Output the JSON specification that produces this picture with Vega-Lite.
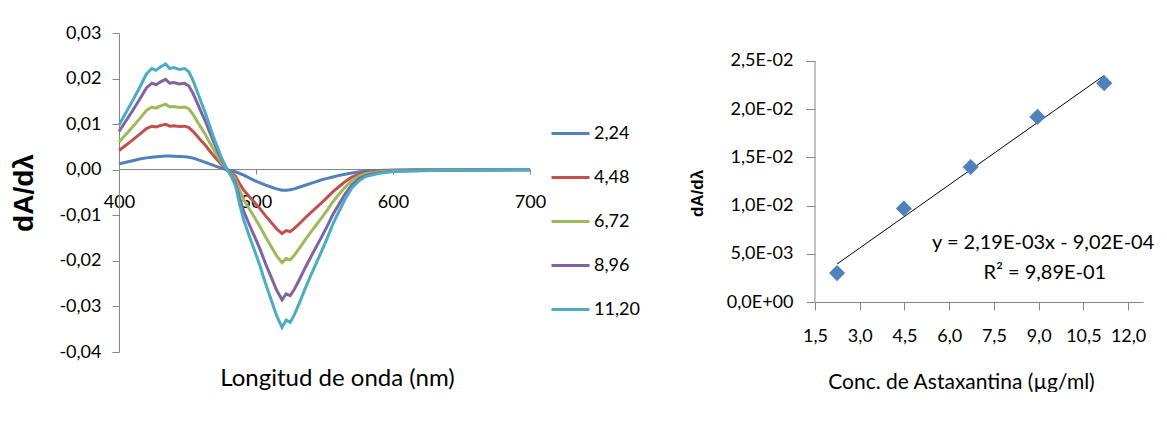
{
  "$schema": "https://vega.github.io/schema/vega-lite/v6.json",
  "background": "white",
  "padding": {"left": 10, "top": 24, "right": 0, "bottom": 0},
  "spacing": 142,
  "config": {
    "font": "Lato",
    "view": {"stroke": null},
    "axis": {"labelFont": "Lato", "titleFont": "Lato", "labelColor": "#000000", "titleColor": "#000000", "domainColor": "#868686", "tickColor": "#868686", "grid": false, "labelFlush": false, "labelOverlap": false},
    "legend": {"labelFont": "Lato", "labelColor": "#000000"},
    "text": {"font": "Lato"}
  },
  "datasets": {
    "pts": [
      {"c": 2.24, "d": 0.0030},
      {"c": 4.48, "d": 0.0097},
      {"c": 6.72, "d": 0.0140},
      {"c": 8.96, "d": 0.0192},
      {"c": 11.2, "d": 0.0227}
    ]
  },
  "hconcat": [
    {
      "width": 411,
      "height": 319,
      "data": {"values": [
        {"w": 400, "2,24": 0.00127, "4,48": 0.00421, "6,72": 0.00608, "8,96": 0.00838, "11,20": 0.0098},
        {"w": 405, "2,24": 0.00163, "4,48": 0.00538, "6,72": 0.00775, "8,96": 0.01069, "11,20": 0.0125},
        {"w": 410, "2,24": 0.00198, "4,48": 0.00654, "6,72": 0.00942, "8,96": 0.013, "11,20": 0.0152},
        {"w": 415, "2,24": 0.00234, "4,48": 0.00774, "6,72": 0.01116, "8,96": 0.01539, "11,20": 0.018},
        {"w": 420, "2,24": 0.0026, "4,48": 0.00903, "6,72": 0.01302, "8,96": 0.01796, "11,20": 0.021},
        {"w": 424, "2,24": 0.00275, "4,48": 0.00955, "6,72": 0.01376, "8,96": 0.01898, "11,20": 0.0222},
        {"w": 427, "2,24": 0.00282, "4,48": 0.00937, "6,72": 0.01352, "8,96": 0.01864, "11,20": 0.0218},
        {"w": 430, "2,24": 0.0029, "4,48": 0.00968, "6,72": 0.01395, "8,96": 0.01924, "11,20": 0.0225},
        {"w": 434, "2,24": 0.003, "4,48": 0.00998, "6,72": 0.01438, "8,96": 0.01984, "11,20": 0.0232},
        {"w": 437, "2,24": 0.003, "4,48": 0.00955, "6,72": 0.01376, "8,96": 0.01898, "11,20": 0.0222},
        {"w": 440, "2,24": 0.00295, "4,48": 0.00963, "6,72": 0.01389, "8,96": 0.01915, "11,20": 0.0224},
        {"w": 444, "2,24": 0.0029, "4,48": 0.00946, "6,72": 0.01364, "8,96": 0.01881, "11,20": 0.022},
        {"w": 448, "2,24": 0.00285, "4,48": 0.00955, "6,72": 0.01376, "8,96": 0.01898, "11,20": 0.0222},
        {"w": 451, "2,24": 0.00275, "4,48": 0.00925, "6,72": 0.01333, "8,96": 0.01838, "11,20": 0.0215},
        {"w": 454, "2,24": 0.00255, "4,48": 0.00843, "6,72": 0.01215, "8,96": 0.01676, "11,20": 0.0196},
        {"w": 457, "2,24": 0.00228, "4,48": 0.0074, "6,72": 0.01066, "8,96": 0.01471, "11,20": 0.0172},
        {"w": 460, "2,24": 0.00195, "4,48": 0.00636, "6,72": 0.00918, "8,96": 0.01265, "11,20": 0.0148},
        {"w": 463, "2,24": 0.00163, "4,48": 0.00538, "6,72": 0.00775, "8,96": 0.01069, "11,20": 0.0125},
        {"w": 466, "2,24": 0.00128, "4,48": 0.00421, "6,72": 0.00608, "8,96": 0.00838, "11,20": 0.0098},
        {"w": 469, "2,24": 0.00094, "4,48": 0.0031, "6,72": 0.00446, "8,96": 0.00616, "11,20": 0.0072},
        {"w": 472, "2,24": 0.00062, "4,48": 0.00206, "6,72": 0.00298, "8,96": 0.0041, "11,20": 0.0048},
        {"w": 475, "2,24": 0.00033, "4,48": 0.00108, "6,72": 0.00155, "8,96": 0.00214, "11,20": 0.0025},
        {"w": 479, "2,24": 0, "4,48": 0, "6,72": 0, "8,96": 0, "11,20": 0},
        {"w": 482, "2,24": -0.0002, "4,48": -0.00061, "6,72": -0.00089, "8,96": -0.00124, "11,20": -0.0015},
        {"w": 485, "2,24": -0.00045, "4,48": -0.00142, "6,72": -0.00207, "8,96": -0.00289, "11,20": -0.0035},
        {"w": 488, "2,24": -0.0008, "4,48": -0.00304, "6,72": -0.00443, "8,96": -0.00619, "11,20": -0.0075},
        {"w": 491, "2,24": -0.0012, "4,48": -0.00446, "6,72": -0.00649, "8,96": -0.00908, "11,20": -0.011},
        {"w": 495, "2,24": -0.0018, "4,48": -0.00587, "6,72": -0.00856, "8,96": -0.01196, "11,20": -0.0145},
        {"w": 499, "2,24": -0.0024, "4,48": -0.00721, "6,72": -0.0105, "8,96": -0.01469, "11,20": -0.0178},
        {"w": 503, "2,24": -0.0029, "4,48": -0.00859, "6,72": -0.01251, "8,96": -0.01749, "11,20": -0.0212},
        {"w": 507, "2,24": -0.0034, "4,48": -0.01013, "6,72": -0.01475, "8,96": -0.02063, "11,20": -0.025},
        {"w": 511, "2,24": -0.0038, "4,48": -0.01154, "6,72": -0.01682, "8,96": -0.02351, "11,20": -0.0285},
        {"w": 515, "2,24": -0.0042, "4,48": -0.01296, "6,72": -0.01888, "8,96": -0.0264, "11,20": -0.032},
        {"w": 519, "2,24": -0.0045, "4,48": -0.01401, "6,72": -0.02041, "8,96": -0.02855, "11,20": -0.0346},
        {"w": 522, "2,24": -0.0045, "4,48": -0.01337, "6,72": -0.01947, "8,96": -0.02723, "11,20": -0.033},
        {"w": 525, "2,24": -0.0044, "4,48": -0.01357, "6,72": -0.01977, "8,96": -0.02764, "11,20": -0.0335},
        {"w": 528, "2,24": -0.0042, "4,48": -0.01288, "6,72": -0.01876, "8,96": -0.02624, "11,20": -0.0318},
        {"w": 532, "2,24": -0.0038, "4,48": -0.01175, "6,72": -0.01711, "8,96": -0.02393, "11,20": -0.029},
        {"w": 536, "2,24": -0.0034, "4,48": -0.01053, "6,72": -0.01534, "8,96": -0.02145, "11,20": -0.026},
        {"w": 540, "2,24": -0.003, "4,48": -0.0094, "6,72": -0.01369, "8,96": -0.01914, "11,20": -0.0232},
        {"w": 544, "2,24": -0.0026, "4,48": -0.0083, "6,72": -0.0121, "8,96": -0.01691, "11,20": -0.0205},
        {"w": 548, "2,24": -0.0022, "4,48": -0.00721, "6,72": -0.0105, "8,96": -0.01469, "11,20": -0.0178},
        {"w": 552, "2,24": -0.0019, "4,48": -0.00608, "6,72": -0.00885, "8,96": -0.01238, "11,20": -0.015},
        {"w": 556, "2,24": -0.0016, "4,48": -0.00486, "6,72": -0.00708, "8,96": -0.0099, "11,20": -0.012},
        {"w": 560, "2,24": -0.0013, "4,48": -0.00385, "6,72": -0.00561, "8,96": -0.00784, "11,20": -0.0095},
        {"w": 565, "2,24": -0.001, "4,48": -0.00263, "6,72": -0.00384, "8,96": -0.00536, "11,20": -0.0065},
        {"w": 570, "2,24": -0.0007, "4,48": -0.00162, "6,72": -0.00236, "8,96": -0.0033, "11,20": -0.004},
        {"w": 575, "2,24": -0.0005, "4,48": -0.00101, "6,72": -0.00148, "8,96": -0.00206, "11,20": -0.0025},
        {"w": 580, "2,24": -0.0003, "4,48": -0.00061, "6,72": -0.00089, "8,96": -0.00124, "11,20": -0.0015},
        {"w": 590, "2,24": -0.00015, "4,48": -0.00032, "6,72": -0.00047, "8,96": -0.00066, "11,20": -0.0008},
        {"w": 600, "2,24": -0.00008, "4,48": -0.00016, "6,72": -0.00024, "8,96": -0.00033, "11,20": -0.0004},
        {"w": 620, "2,24": -0.00003, "4,48": -0.00008, "6,72": -0.00012, "8,96": -0.00017, "11,20": -0.0002},
        {"w": 650, "2,24": 0, "4,48": -0.00004, "6,72": -0.00006, "8,96": -0.00008, "11,20": -0.0001},
        {"w": 700, "2,24": 0, "4,48": 0, "6,72": 0, "8,96": 0, "11,20": 0}
      ]},
      "transform": [{"fold": ["2,24", "4,48", "6,72", "8,96", "11,20"], "as": ["serie", "v"]}],
      "mark": {"type": "line", "strokeWidth": 3, "clip": false},
      "encoding": {
        "x": {
          "field": "w", "type": "quantitative",
          "scale": {"domain": [400, 700], "nice": false, "zero": false},
          "axis": {
            "values": [400, 500, 600, 700],
            "offset": -183,
            "title": "Longitud de onda (nm)",
            "titleFontSize": 24, "titleFontWeight": "normal",
            "titleX": 218, "titleY": 209, "titleBaseline": "middle",
            "labelFontSize": 18, "labelPadding": 19, "tickSize": 5
          }
        },
        "y": {
          "field": "v", "type": "quantitative",
          "scale": {"domain": [-0.04, 0.03], "nice": false},
          "axis": {
            "values": [-0.04, -0.03, -0.02, -0.01, 0, 0.01, 0.02, 0.03],
            "labelExpr": "replace(replace(format(datum.value, '.2f'), '.', ','), '\u2212', '-')",
            "title": "dA/dλ",
            "titleFont": "Liberation Sans", "titleFontSize": 28, "titleFontWeight": "bold",
            "titlePadding": 20,
            "labelFontSize": 18, "labelPadding": 11, "tickSize": 7
          }
        },
        "color": {
          "field": "serie", "type": "nominal",
          "scale": {"domain": ["2,24", "4,48", "6,72", "8,96", "11,20"], "range": ["#4F81BD", "#C0504D", "#9BBB59", "#8064A2", "#4BACC6"]},
          "legend": {
            "title": null, "orient": "none", "legendX": 431, "legendY": 80,
            "symbolType": "stroke", "symbolStrokeWidth": 3, "symbolSize": 1444,
            "labelFontSize": 18, "rowPadding": 14, "labelOffset": 3, "padding": 0
          }
        }
      }
    },
    {
      "width": 328,
      "height": 269,
      "encoding": {
        "x": {
          "field": "c", "type": "quantitative",
          "scale": {"domain": [1.5, 12.5], "nice": false, "zero": false},
          "axis": {
            "values": [1.5, 3, 4.5, 6, 7.5, 9, 10.5, 12],
            "labelExpr": "replace(format(datum.value, '.1f'), '.', ',')",
            "title": "Conc. de Astaxantina (µg/ml)",
            "titleFontSize": 21, "titleFontWeight": "normal",
            "titleX": 146, "titleY": 80, "titleBaseline": "middle",
            "labelFontSize": 18, "labelPadding": 17, "tickSize": 8
          }
        },
        "y": {
          "field": "d", "type": "quantitative",
          "scale": {"domain": [0, 0.0279], "nice": false},
          "axis": {
            "values": [0, 0.005, 0.01, 0.015, 0.02, 0.025],
            "domain": false,
            "labelExpr": "datum.value < 0.001 ? '0,0E+00' : datum.value < 0.006 ? '5,0E-03' : datum.value < 0.011 ? '1,0E-02' : datum.value < 0.016 ? '1,5E-02' : datum.value < 0.021 ? '2,0E-02' : '2,5E-02'",
            "title": "dA/dλ",
            "titleFont": "Liberation Sans", "titleFontSize": 17, "titleFontWeight": "bold",
            "titleY": 160, "titlePadding": 20,
            "labelFontSize": 18, "labelPadding": 13, "tickSize": 9
          }
        }
      },
      "layer": [
        {
          "data": {"values": [{"c": 1.5, "d": 0, "d2": 0.025}]},
          "mark": {"type": "rule", "color": "#868686", "strokeWidth": 1},
          "encoding": {"y2": {"field": "d2"}}
        },
        {
          "data": {"name": "pts"},
          "transform": [{"regression": "d", "on": "c"}],
          "mark": {"type": "line", "color": "#000000", "strokeWidth": 1}
        },
        {
          "data": {"name": "pts"},
          "mark": {"type": "point", "shape": "diamond", "filled": true, "size": 260, "color": "#4F81BD", "opacity": 1}
        },
        {
          "data": {"values": [
            {"c": 9.15, "d": 0.00612, "t": "y = 2,19E-03x - 9,02E-04"},
            {"c": 9.21, "d": 0.00301, "t": "R² = 9,89E-01"}
          ]},
          "mark": {"type": "text", "fontSize": 20, "align": "center", "baseline": "middle", "color": "#000000"},
          "encoding": {"text": {"field": "t", "type": "nominal"}}
        }
      ]
    }
  ]
}
